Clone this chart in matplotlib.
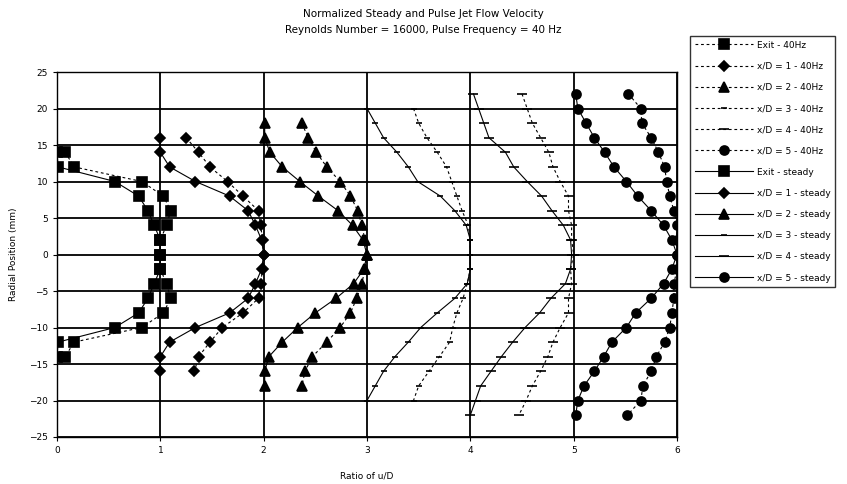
import matplotlib
matplotlib.use('Agg')
import matplotlib.pyplot as plt
import numpy as np

# radial positions (mm) for each station
exit_y = [14, 12, 10, 8, 6, 4, 2, 0, -2, -4, -6, -8, -10, -12, -14]
xd1_y = [16, 14, 12, 10, 8, 6, 4, 2, 0, -2, -4, -6, -8, -10, -12, -14, -16]
xd2_y = [18, 16, 14, 12, 10, 8, 6, 4, 2, 0, -2, -4, -6, -8, -10, -12, -14, -16, -18]
xd3_y = [20, 18, 16, 14, 12, 10, 8, 6, 4, 2, 0, -2, -4, -6, -8, -10, -12, -14, -16, -18, -20]
xd45_y = [22, 20, 18, 16, 14, 12, 10, 8, 6, 4, 2, 0, -2, -4, -6, -8, -10, -12, -14, -16, -18, -20, -22]

# plotted ratio values (already offset by x/D)
exit_pulse = [0.08, 0.165, 0.82, 1.03, 1.1, 1.06, 1.0, 1.0, 1.0, 1.06, 1.1, 1.03, 0.82, 0.165, 0.08]
exit_steady = [0.0, 0.01, 0.56, 0.79, 0.88, 0.94, 1.0, 1.0, 1.0, 0.94, 0.88, 0.79, 0.56, 0.01, 0.0]

xd1_pulse = [1.25, 1.37, 1.48, 1.65, 1.8, 1.95, 1.97, 1.99, 2.0, 1.99, 1.97, 1.95, 1.8, 1.6, 1.48, 1.37, 1.33]
xd1_steady = [1.0, 1.0, 1.09, 1.34, 1.67, 1.85, 1.92, 1.98, 2.0, 1.98, 1.92, 1.85, 1.67, 1.34, 1.09, 1.0, 1.0]

xd2_pulse = [2.37, 2.43, 2.51, 2.61, 2.74, 2.84, 2.91, 2.95, 2.98, 3.0, 2.98, 2.95, 2.9, 2.84, 2.74, 2.61, 2.47, 2.4, 2.37]
xd2_steady = [2.01, 2.01, 2.06, 2.18, 2.35, 2.53, 2.72, 2.86, 2.96, 3.0, 2.97, 2.87, 2.7, 2.5, 2.33, 2.18, 2.05, 2.01, 2.01]

xd3_pulse = [3.45, 3.5, 3.58, 3.68, 3.77, 3.82, 3.87, 3.92, 3.98, 4.0, 4.0, 4.0, 3.97, 3.93, 3.87, 3.83, 3.8, 3.7, 3.6, 3.5, 3.45]
xd3_steady = [3.0, 3.08, 3.16, 3.29, 3.4, 3.49, 3.71, 3.85, 3.96, 4.0, 4.0, 4.0, 3.97, 3.85, 3.68, 3.52, 3.4, 3.27, 3.16, 3.08, 3.0]

xd4_pulse = [4.5, 4.55, 4.6, 4.68, 4.76, 4.8, 4.87, 4.95, 4.95, 4.98, 4.98, 5.0, 4.97, 4.98, 4.95, 4.95, 4.87, 4.8, 4.75, 4.68, 4.6, 4.54, 4.47]
xd4_steady = [4.03, 4.08, 4.13, 4.18, 4.34, 4.42, 4.55, 4.69, 4.79, 4.9, 4.97, 4.98, 4.97, 4.92, 4.78, 4.67, 4.53, 4.41, 4.3, 4.2, 4.1, 4.05, 4.0]

xd5_pulse = [5.53, 5.65, 5.66, 5.75, 5.82, 5.88, 5.9, 5.93, 5.97, 6.0, 6.0, 6.0, 6.0, 5.97, 5.97, 5.95, 5.93, 5.88, 5.8, 5.75, 5.67, 5.65, 5.52]
xd5_steady = [5.02, 5.04, 5.12, 5.2, 5.3, 5.39, 5.51, 5.62, 5.75, 5.87, 5.95, 6.0, 5.95, 5.87, 5.75, 5.6, 5.51, 5.37, 5.29, 5.2, 5.1, 5.04, 5.02]

labels_pulse = ['Exit - 40Hz', 'x/D = 1 - 40Hz', 'x/D = 2 - 40Hz',
                'x/D = 3 - 40Hz', 'x/D = 4 - 40Hz', 'x/D = 5 - 40Hz']
labels_steady = ['Exit - steady', 'x/D = 1 - steady', 'x/D = 2 - steady',
                 'x/D = 3 - steady', 'x/D = 4 - steady', 'x/D = 5 - steady']

fig = plt.figure(figsize=(8.47, 4.84), dpi=100)
ax = fig.add_axes([57 / 847, 1 - 437 / 484, 620 / 847, 365 / 484])

ys = [exit_y, xd1_y, xd2_y, xd3_y, xd45_y, xd45_y]
pulses = [exit_pulse, xd1_pulse, xd2_pulse, xd3_pulse, xd4_pulse, xd5_pulse]
steadies = [exit_steady, xd1_steady, xd2_steady, xd3_steady, xd4_steady, xd5_steady]
markers = ['s', 'D', '^', '_', '_', 'o']
msizes = [6.5, 5, 7, 4, 7, 6.5]

for y, x, m, ms, lab in zip(ys, pulses, markers, msizes, labels_pulse):
    ax.plot(x, y, color='black', lw=0.8, ls=(0, (2.5, 2.5)), marker=m,
            ms=ms, mew=1.2, label=lab)
for y, x, m, ms, lab in zip(ys, steadies, markers, msizes, labels_steady):
    ax.plot(x, y, color='black', lw=0.8, ls='-', marker=m,
            ms=ms, mew=1.2, label=lab)

ax.set_xlim(0, 6)
ax.set_ylim(-25, 25)
ax.set_xticks(np.arange(0, 7, 1))
ax.set_yticks(np.arange(-25, 30, 5))
ax.grid(True, color='black', lw=1.3)
ax.set_axisbelow(True)
for s in ax.spines.values():
    s.set_color('black')
    s.set_linewidth(1.0)
ax.tick_params(labelsize=6.5, length=3, width=0.8, direction='out')
ax.set_xlabel('Ratio of u/D', fontsize=6.5, labelpad=12)
ax.set_ylabel('Radial Position (mm)', fontsize=6.5, labelpad=8)

fig.text(0.5, 1 - 22 / 484,
         'Normalized Steady and Pulse Jet Flow Velocity\n'
         'Reynolds Number = 16000, Pulse Frequency = 40 Hz',
         ha='center', va='center', fontsize=7.5, linespacing=1.8)

leg = fig.legend(loc='upper left', bbox_to_anchor=(690 / 847, 1 - 36 / 484),
                 fontsize=6.5, frameon=True, fancybox=False, edgecolor='black',
                 handlelength=6.5, handletextpad=0.4, labelspacing=1.35,
                 borderpad=0.5, borderaxespad=0.0)
leg.get_frame().set_linewidth(1.0)

fig.savefig('out.png', dpi=100)
